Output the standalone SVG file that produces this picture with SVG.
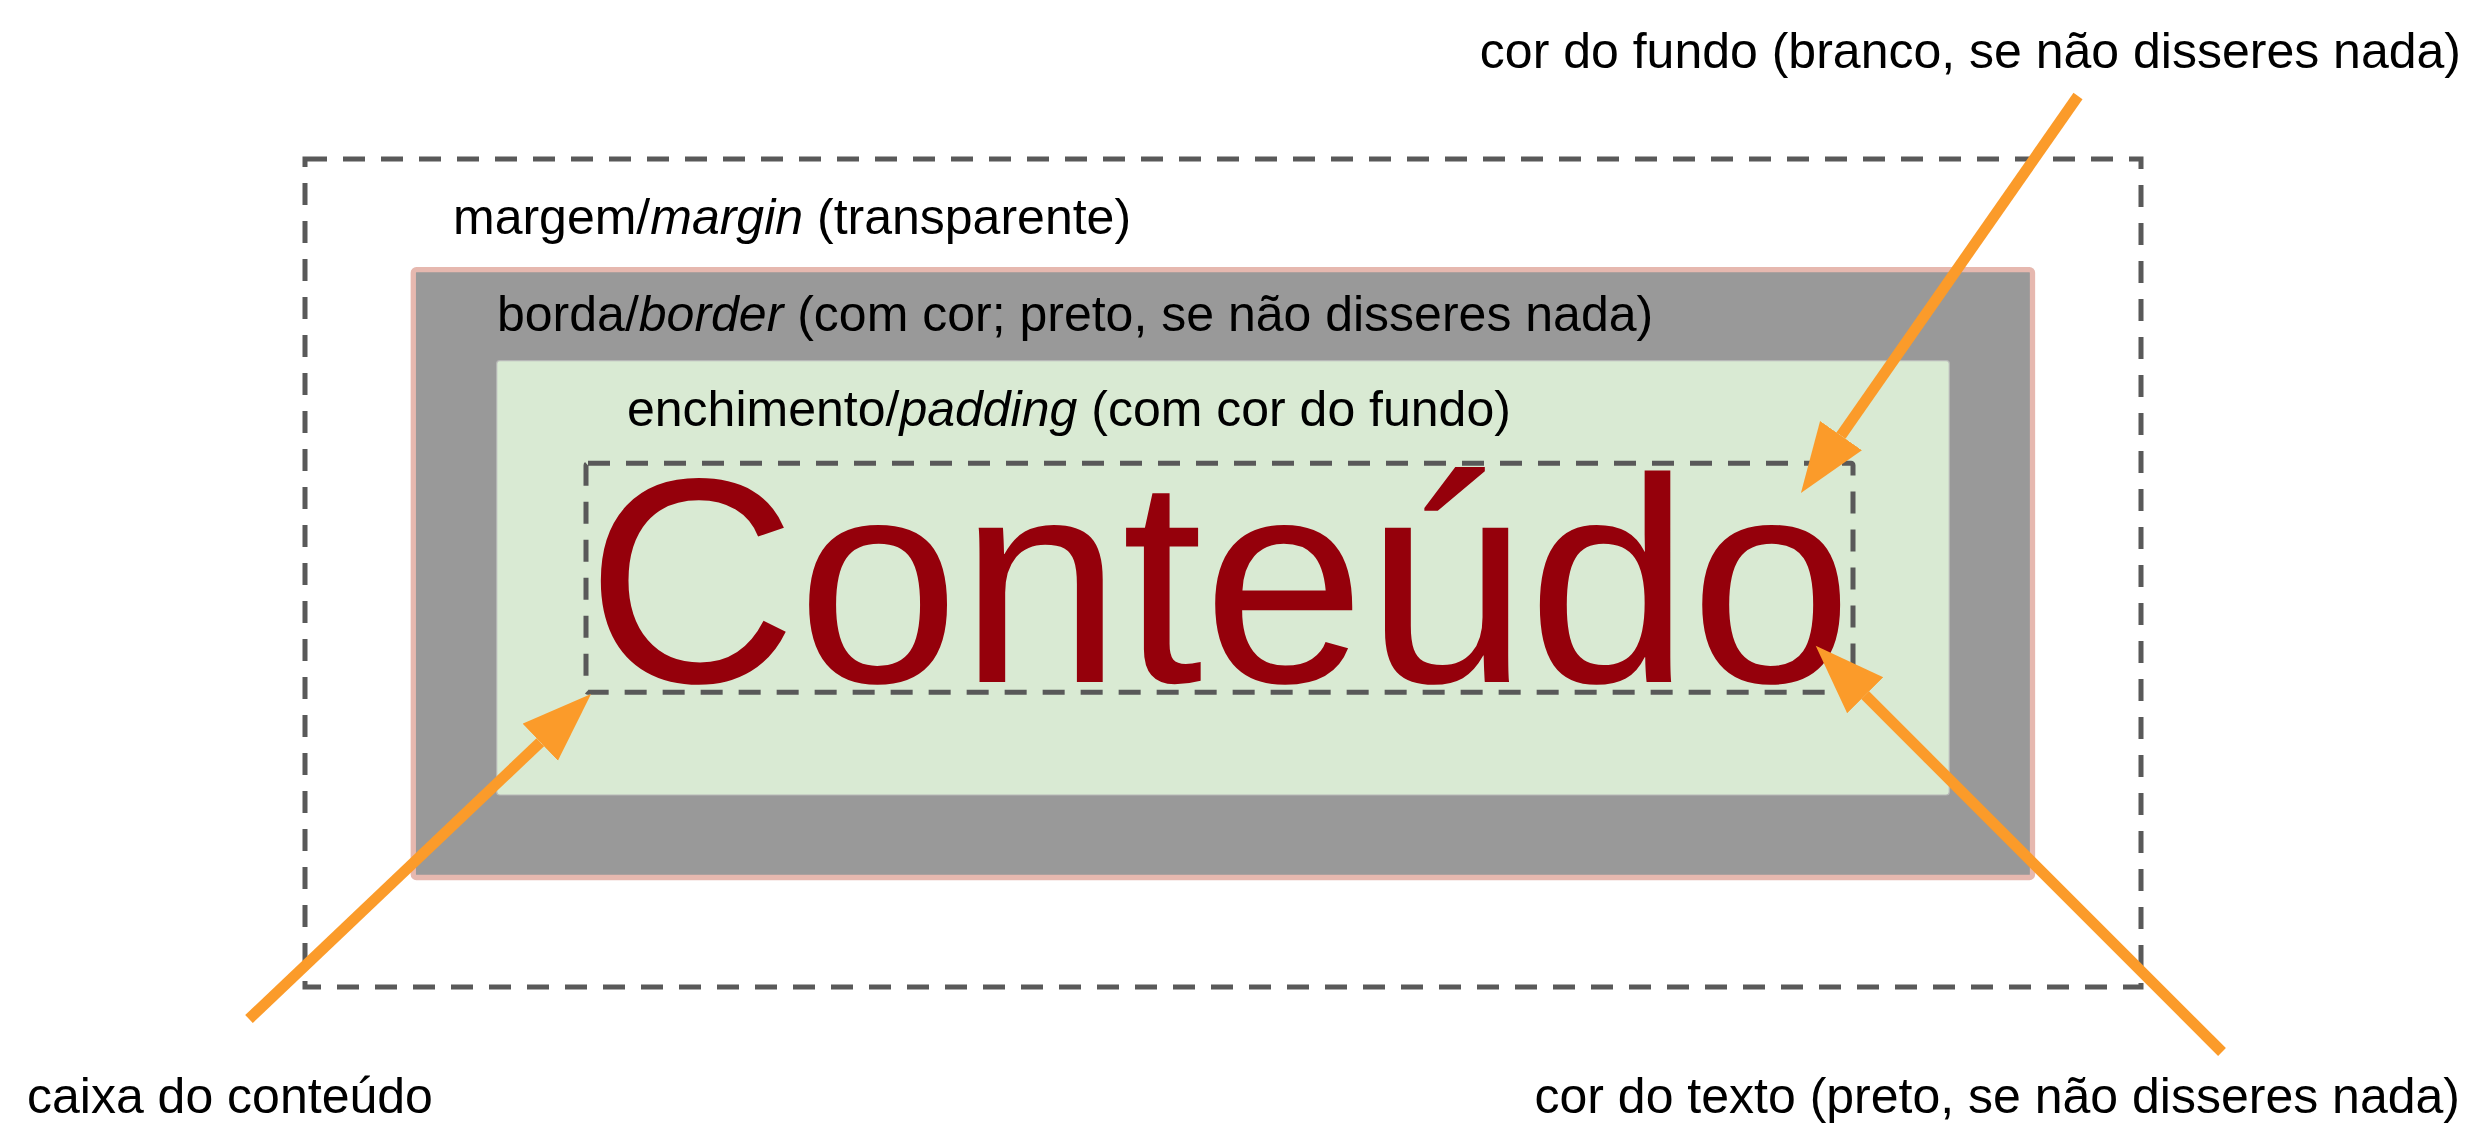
<svg xmlns="http://www.w3.org/2000/svg" width="2492" height="1148" viewBox="0 0 2492 1148">
<style>
  .lbl { font-family: "Liberation Sans", Arial, sans-serif; font-size: 50px; fill: #000000; }
  .it { font-style: italic; }
  .dash { fill: none; stroke: #595959; stroke-width: 5; stroke-dasharray: 22 16; }
  .arrow { fill: none; stroke: #fb9b2a; stroke-width: 11; stroke-linecap: butt; marker-end: url(#head); }
</style>
<defs>
  <marker id="head" markerUnits="userSpaceOnUse" markerWidth="72" markerHeight="52" refX="0" refY="25.5" orient="auto" viewBox="0 0 72 52">
    <path d="M0,0 L70,25.5 L0,51 Z" fill="#fb9b2a"/>
  </marker>
</defs>
<rect width="2492" height="1148" fill="#ffffff"/>

<g id="margin-box">
  <rect class="dash" x="305" y="159" width="1836" height="828"/>
  <text class="lbl" x="453" y="234">margem/<tspan class="it">margin</tspan> (transparente)</text>
</g>

<g id="border-box">
  <rect x="413.3" y="269.7" width="1619.2" height="607.8" rx="3" fill="#999999" stroke="#e6b8af" stroke-width="5.3"/>
  <text class="lbl" x="497" y="331">borda/<tspan class="it">border</tspan> (com cor; preto, se não disseres nada)</text>
</g>

<g id="padding-box">
  <rect x="496.7" y="360.7" width="1452.6" height="434.3" rx="3" fill="#d9ead3" stroke="#b7b7b7" stroke-width="1.2"/>
  <text class="lbl" x="627" y="426">enchimento/<tspan class="it">padding</tspan> (com cor do fundo)</text>
</g>

<g id="content-box">
  <rect class="dash" x="586" y="463.3" width="1267" height="229" rx="2"/>
  <text x="586" y="682" font-family="Liberation Sans, Arial, sans-serif" font-size="292" fill="#95000b">Conteúdo</text>
</g>

<g id="label-background">
  <text class="lbl" x="2461" y="68" text-anchor="end">cor do fundo (branco, se não disseres nada)</text>
</g>
<g id="label-content-box">
  <text class="lbl" x="27" y="1113">caixa do conteúdo</text>
</g>
<g id="label-text-color">
  <text class="lbl" x="2460" y="1113" text-anchor="end">cor do texto (preto, se não disseres nada)</text>
</g>

<g id="connectors">
  <line class="arrow" x1="249" y1="1019" x2="540.3" y2="742.2"/>
  <line class="arrow" x1="2078" y1="96" x2="1841" y2="435.6"/>
  <line class="arrow" x1="2222" y1="1052" x2="1865.2" y2="695.2"/>
</g>
</svg>
